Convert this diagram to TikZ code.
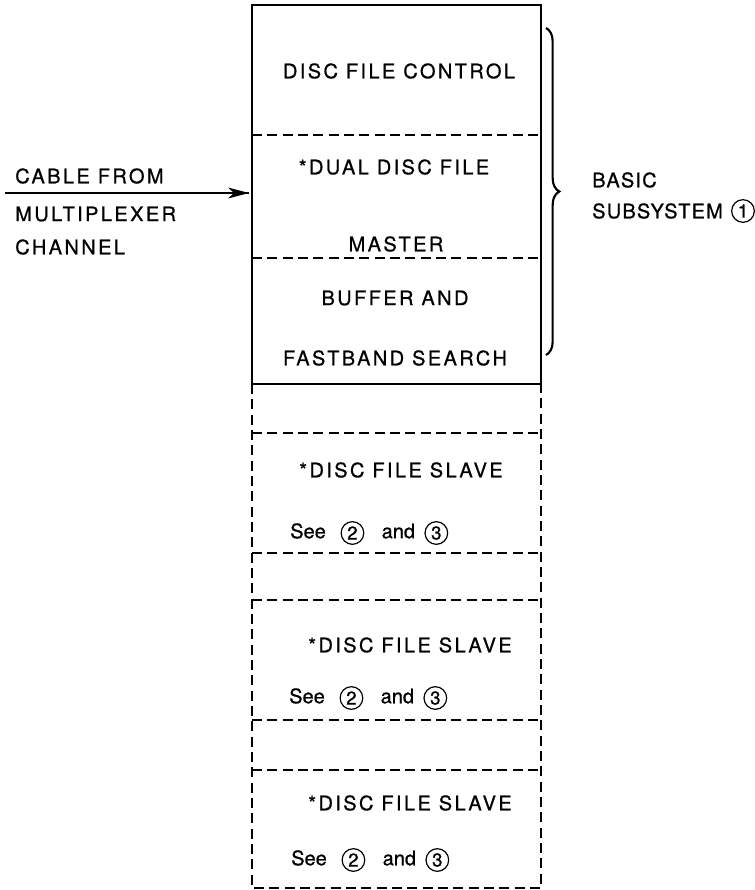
\documentclass[tikz,border=0pt]{standalone}
\usepackage{fontspec}
\usepackage{tikz}
\usetikzlibrary{decorations.pathreplacing}
\newfontfamily\capfont{TeX Gyre Heros}[LetterSpace=12,FakeBold=0.8]
\newfontfamily\sidefont{TeX Gyre Heros}[LetterSpace=6,FakeBold=0.8]
\newfontfamily\lowfont{TeX Gyre Heros}[FakeBold=0.8]
\newcommand{\circnum}[1]{\tikz[baseline=-0.5ex]\node[draw,circle,line width=0.9pt,inner sep=0pt,minimum size=17pt]{\lowfont\fontsize{14}{14}\selectfont #1};}

\begin{document}
\begin{tikzpicture}[x=0.75pt,y=0.75pt,yscale=-1,xscale=1,
  solidline/.style={line width=2.1},
  dashline/.style={line width=2.1,dash pattern=on 7.5pt off 4pt},
  caplabel/.style={font=\capfont\fontsize{15}{18}\selectfont,inner sep=0pt},
  sidelabel/.style={font=\sidefont\fontsize{15}{18}\selectfont,inner sep=0pt,anchor=west},
  seelabel/.style={font=\lowfont\fontsize{15}{18}\selectfont,inner sep=0pt,anchor=west}]
\path (0,0) rectangle (754,890); %set diagram size

%Shape: Rectangle (basic subsystem)
\draw [solidline] (252,5) rectangle (541,384) ;
%Straight Lines
\draw [dashline] (252,135) -- (541,135) ;
\draw [dashline] (252,258) -- (541,258) ;

%Shape: Rectangle (slaves)
\draw [dashline] (252,384) -- (252,888) -- (541,888) -- (541,384) ;
%Straight Lines
\foreach \y in {433,553,600,720,770} {
  \draw [dashline] (252,\y) -- (541,\y) ;
}

%Shape: Brace
\draw [line width=1.6, decorate, decoration={brace, amplitude=10pt}] (546,28) -- (546,355) ;

%Straight Lines (cable)
\coordinate (cable) at (5,193) ;
\coordinate (boxin) at (249,193) ;
\draw [line width=2.1] (cable) -- (boxin) ;
\draw [shift={(boxin)}, rotate = 180] [fill=black][draw opacity=0] (21,-5.5) -- (0,0) -- (21,5.5) -- (15,0) -- cycle ;

% Text Node
\draw (399,71) node [caplabel] (ctrl) {DISC FILE CONTROL};
% Text Node
\draw (394,167) node [caplabel] (dual) {*DUAL DISC FILE};
% Text Node
\draw (396,244) node [caplabel] (master) {MASTER};
% Text Node
\draw (395,298) node [caplabel] (buffer) {BUFFER AND};
% Text Node
\draw (395,358) node [caplabel] (fastband) {FASTBAND SEARCH};

% Text Node
\draw (401,470) node [caplabel] (slavea) {*DISC FILE SLAVE};
% Text Node
\draw (290,533) node [seelabel] (seea) {See\hspace{11pt}\circnum{2}\hspace{13pt}and\hspace{7pt}\circnum{3}};
% Text Node
\draw (410,645) node [caplabel] (slaveb) {*DISC FILE SLAVE};
% Text Node
\draw (289,698) node [seelabel] (seeb) {See\hspace{11pt}\circnum{2}\hspace{13pt}and\hspace{7pt}\circnum{3}};
% Text Node
\draw (410,803) node [caplabel] (slavec) {*DISC FILE SLAVE};
% Text Node
\draw (291,860) node [seelabel] (seec) {See\hspace{11pt}\circnum{2}\hspace{13pt}and\hspace{7pt}\circnum{3}};

% Text Node
\draw (15,176) node [caplabel,anchor=west] (cablefrom) {CABLE FROM};
% Text Node
\draw (15,214) node [caplabel,anchor=west] (mux) {MULTIPLEXER};
% Text Node
\draw (15,247) node [caplabel,anchor=west] (chan) {CHANNEL};

% Text Node
\draw (592,180) node [sidelabel] (basic) {BASIC};
% Text Node
\draw (592,211) node [sidelabel] (subsys) {SUBSYSTEM};
% Text Node
\draw (743,211) node [inner sep=0pt] (one) {\circnum{1}};

\end{tikzpicture}
\end{document}
